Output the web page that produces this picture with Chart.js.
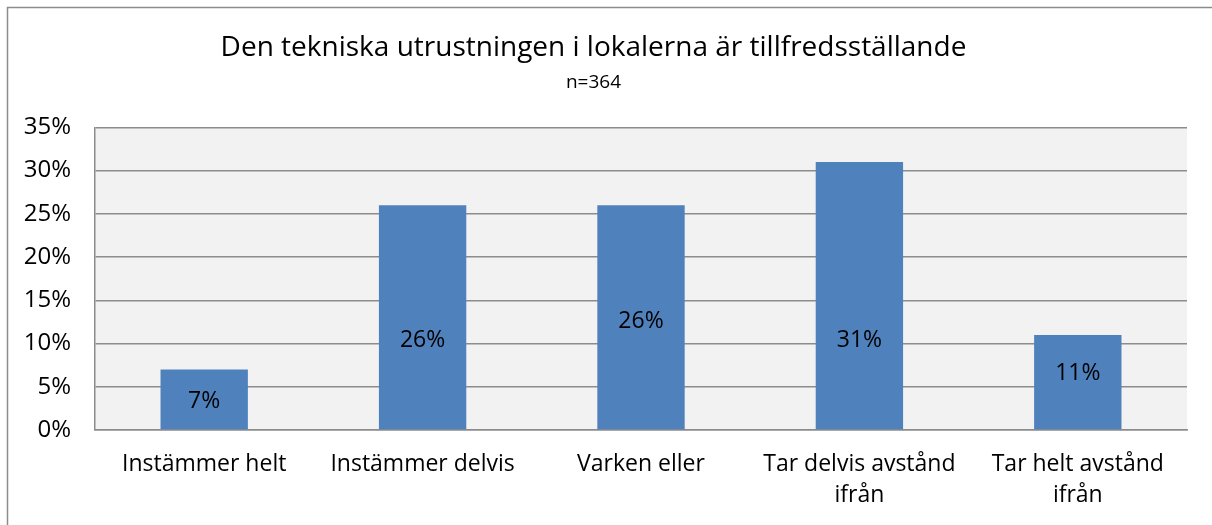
<!DOCTYPE html>
<html>
<head>
<meta charset="utf-8">
<script src="https://cdn.jsdelivr.net/npm/chart.js@4"></script>
<style>
  html, body { margin: 0; padding: 0; background: #fff; }
  #wrap { width: 1212px; height: 525px; position: relative; }
</style>
</head>
<body>
<div id="wrap"><canvas id="chart"></canvas></div>
<script>
// data
const categories = ['Instämmer helt', 'Instämmer delvis', 'Varken eller', ['Tar delvis avstånd', 'ifrån'], ['Tar helt avstånd', 'ifrån']];
const values = [7, 26, 26, 31, 11];
const yTicks = [0, 5, 10, 15, 20, 25, 30, 35];

const fontFamily = "'Open Sans', 'Noto Sans', sans-serif";

// grey plot background + outer frame
const frame = {
    id: 'frame',
    beforeDraw(chart) {
        const ctx = chart.ctx;
        const a = chart.chartArea;
        ctx.save();
        ctx.fillStyle = '#f2f2f2';
        ctx.fillRect(a.left, a.top, a.right - a.left, a.bottom - a.top);
        ctx.strokeStyle = '#8c8c8c';
        ctx.lineWidth = 1.5;
        ctx.beginPath();
        ctx.moveTo(7.5, chart.height);
        ctx.lineTo(7.5, 7.5);
        ctx.lineTo(chart.width, 7.5);
        ctx.stroke();
        ctx.restore();
    }
};

// value labels inside the bars (Excel labels were moved by hand, anchors in axis units)
const barLabels = {
    id: 'barLabels',
    afterDatasetsDraw(chart, args, opts) {
        const ctx = chart.ctx;
        const meta = chart.getDatasetMeta(0);
        const y = chart.scales.y;
        ctx.save();
        ctx.fillStyle = '#000';
        ctx.font = '23px ' + fontFamily;
        ctx.textAlign = 'center';
        ctx.textBaseline = 'middle';
        meta.data.forEach((bar, i) => {
            const at = opts.anchors ? opts.anchors[i] : values[i] / 2;
            ctx.fillText(values[i] + '%', bar.x, y.getPixelForValue(at));
        });
        ctx.restore();
    }
};

new Chart(document.getElementById('chart'), {
    type: 'bar',
    data: {
        labels: categories,
        datasets: [{
            data: values,
            backgroundColor: '#4f81bd',
            borderWidth: 0,
            categoryPercentage: 1,
            barPercentage: 0.4
        }]
    },
    plugins: [frame, barLabels],
    options: {
        responsive: true,
        maintainAspectRatio: false,
        animation: false,
        layout: { padding: { top: 14, right: 25, left: 0, bottom: 0 } },
        plugins: {
            legend: { display: false },
            tooltip: { enabled: false },
            title: {
                display: true,
                text: 'Den tekniska utrustningen i lokalerna är tillfredsställande',
                color: '#000',
                font: { family: fontFamily, size: 28, weight: 'normal', lineHeight: 1.2 },
                padding: { top: 17, bottom: 3 }
            },
            subtitle: {
                display: true,
                text: 'n=364',
                color: '#000',
                font: { family: fontFamily, size: 19, weight: 'normal', lineHeight: 1.2 },
                padding: { top: 4, bottom: 33 }
            },
            barLabels: { anchors: [3.35, 10.4, 12.55, 10.4, 6.55] }
        },
        scales: {
            x: {
                grid: { display: false, drawTicks: false },
                border: { color: '#8c8c8c', width: 1.5 },
                ticks: {
                    color: '#000',
                    font: { family: fontFamily, size: 23, lineHeight: 1.35 },
                    padding: 19,
                    maxRotation: 0,
                    autoSkip: false
                },
                afterFit(scale) { scale.height = 95; }
            },
            y: {
                min: 0,
                max: 35,
                afterBuildTicks(scale) { scale.ticks = yTicks.map(v => ({ value: v })); },
                grid: { color: '#8c8c8c', lineWidth: 1.5, drawTicks: false },
                border: { color: '#8c8c8c', width: 1.5 },
                ticks: {
                    color: '#000',
                    font: { family: fontFamily, size: 24 },
                    padding: 24,
                    callback: v => v + '%'
                },
                afterFit(scale) { scale.width = 95; }
            }
        }
    }
});
</script>
</body>
</html>
